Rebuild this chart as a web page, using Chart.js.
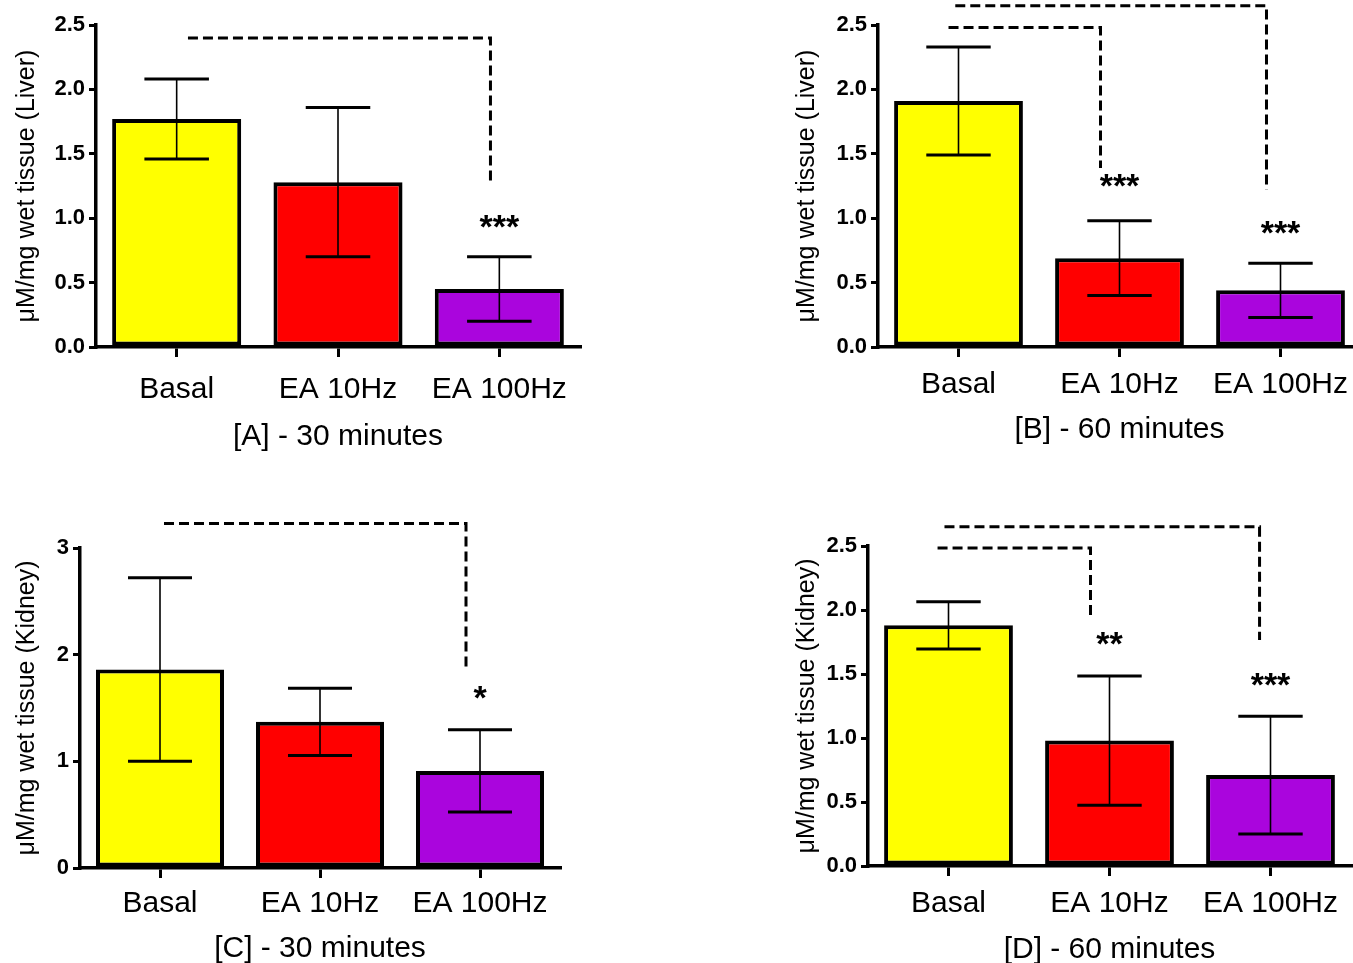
<!DOCTYPE html>
<html>
<head>
<meta charset="utf-8">
<script src="https://cdn.jsdelivr.net/npm/chart.js@4.4.0/dist/chart.umd.min.js"></script>
<style>
    html, body { margin: 0; padding: 0; background: #fff; overflow: hidden; width: 1353px; height: 963px; }
    .panel { position: absolute; }
</style>
</head>
<body>
<div class="panel" style="left:0;top:0"><canvas id="chartA" width="600" height="460"></canvas></div>
<div class="panel" style="left:780px;top:0"><canvas id="chartB" width="600" height="460"></canvas></div>
<div class="panel" style="left:0;top:480px"><canvas id="chartC" width="600" height="500"></canvas></div>
<div class="panel" style="left:780px;top:480px"><canvas id="chartD" width="600" height="500"></canvas></div>
<script>
const categories = ['Basal', 'EA 10Hz', 'EA 100Hz'];

// [A] liver, 30 minutes
const liver30Means = [1.77, 1.28, 0.45];
const liver30Errors = [0.31, 0.58, 0.25];
const liver30Stars = ['', '', '***'];
const liver30StarLevels = [null, null, 0.99];
// bracket: [from, to, fromShift, toShift, topLevel, endLevel]
const liver30Brackets = [[0, 2, 0.07, -0.055, 2.40, 1.26]];

// [B] liver, 60 minutes
const liver60Means = [1.91, 0.69, 0.44];
const liver60Errors = [0.42, 0.29, 0.21];
const liver60Stars = ['', '***', '***'];
const liver60StarLevels = [null, 1.31, 0.95];
const liver60Brackets = [[0, 1, -0.062, -0.118, 2.48, 1.39], [0, 2, -0.02, -0.087, 2.65, 1.22]];

// [C] kidney, 30 minutes
const kidney30Means = [1.86, 1.37, 0.91];
const kidney30Errors = [0.86, 0.315, 0.385];
const kidney30Stars = ['', '', '*'];
const kidney30StarLevels = [null, null, 1.67];
const kidney30Brackets = [[0, 2, 0.025, -0.0875, 3.23, 1.875]];

// [D] kidney, 60 minutes
const kidney60Means = [1.88, 0.98, 0.71];
const kidney60Errors = [0.185, 0.505, 0.46];
const kidney60Stars = ['', '**', '***'];
const kidney60StarLevels = [null, 1.80, 1.48];
const kidney60Brackets = [[0, 1, -0.068, -0.118, 2.484, 1.945], [0, 2, -0.025, -0.068, 2.65, 1.766]];

const halfTicks = [0, 0.5, 1, 1.5, 2, 2.5];
const unitTicks = [0, 1, 2, 3];

const barColors = ['#ffff00', '#ff0000', '#aa05dd'];
const family = '"Liberation Sans", Arial, sans-serif';

// error bars, significance brackets and stars
function makeMarks(means, errors, stars, starLevels, brackets) {
    return {
        id: 'marks',
        afterDatasetsDraw(chart) {
            const ctx = chart.ctx;
            const x = chart.scales.x;
            const y = chart.scales.y;
            const meta = chart.getDatasetMeta(0);
            ctx.save();
            ctx.strokeStyle = '#000';
            means.forEach((m, i) => {
                const bar = meta.data[i];
                const cx = bar.x;
                const half = bar.width * 0.25;
                const top = y.getPixelForValue(m + errors[i]);
                const bot = y.getPixelForValue(m - errors[i]);
                ctx.lineWidth = 1.6;
                ctx.beginPath();
                ctx.moveTo(cx, top);
                ctx.lineTo(cx, bot);
                ctx.stroke();
                ctx.lineWidth = 3;
                ctx.beginPath();
                ctx.moveTo(cx - half, top);
                ctx.lineTo(cx + half, top);
                ctx.moveTo(cx - half, bot);
                ctx.lineTo(cx + half, bot);
                ctx.stroke();
            });

            ctx.setLineDash([10, 5]);
            ctx.lineWidth = 3;
            brackets.forEach(b => {
                const x0 = x.getPixelForValue(b[0] + b[2]);
                const x1 = x.getPixelForValue(b[1] + b[3]);
                const yt = y.getPixelForValue(b[4]);
                const ye = y.getPixelForValue(b[5]);
                ctx.beginPath();
                ctx.moveTo(x0, yt);
                ctx.lineTo(x1, yt);
                ctx.lineTo(x1, ye);
                ctx.stroke();
            });
            ctx.setLineDash([]);

            ctx.font = 'bold 34px ' + family;
            ctx.textAlign = 'center';
            ctx.textBaseline = 'alphabetic';
            ctx.fillStyle = '#000';
            stars.forEach((s, i) => {
                if (!s) return;
                ctx.fillText(s, x.getPixelForValue(i), y.getPixelForValue(starLevels[i]) + 19);
            });
            ctx.restore();
        }
    };
}

function makePanel(id, p) {
    new Chart(document.getElementById(id), {
        type: 'bar',
        data: {
            labels: categories,
            datasets: [{
                data: p.means,
                backgroundColor: barColors,
                borderColor: '#000',
                borderWidth: 4,
                borderSkipped: false,
                barPercentage: 0.8,
                categoryPercentage: 1
            }]
        },
        options: {
            responsive: false,
            animation: false,
            layout: { padding: { top: p.top, right: p.right, left: 0, bottom: 0 } },
            plugins: { legend: { display: false }, tooltip: { enabled: false } },
            scales: {
                x: {
                    grid: { display: true, drawOnChartArea: false, offset: false, color: '#000', lineWidth: 3, tickLength: 10 },
                    border: { display: true, color: '#000', width: 3.5 },
                    ticks: { color: '#000', font: { size: 30, family: family }, padding: p.labelPad, maxRotation: 0, autoSkip: false },
                    title: { display: true, text: p.xTitle, color: '#000', font: { size: 30, family: family }, padding: { top: 0, bottom: p.titlePad } },
                    afterFit: s => { s.height = p.xHeight; }
                },
                y: {
                    min: 0,
                    max: p.ticks[p.ticks.length - 1],
                    afterBuildTicks: s => { s.ticks = p.ticks.map(v => ({ value: v })); },
                    ticks: { color: '#000', font: { size: 22, weight: 'bold', family: family }, padding: 4, callback: v => v.toFixed(p.decimals) },
                    grid: { display: true, drawOnChartArea: false, color: '#000', lineWidth: 3, tickLength: 7 },
                    border: { display: true, color: '#000', width: 3.5 },
                    title: { display: true, text: p.yTitle, color: '#000', font: { size: 25, family: family }, padding: { top: 12, bottom: 0 } },
                    afterFit: s => { s.width = p.left; }
                }
            }
        },
        plugins: [makeMarks(p.means, p.errors, p.stars, p.starLevels, p.brackets)]
    });
}

makePanel('chartA', {
    means: liver30Means, errors: liver30Errors, stars: liver30Stars, starLevels: liver30StarLevels, brackets: liver30Brackets,
    ticks: halfTicks, decimals: 1, yTitle: 'μM/mg wet tissue (Liver)', xTitle: '[A] - 30 minutes',
    left: 96, top: 25, right: 20, xHeight: 113, labelPad: 15, titlePad: 5
});
makePanel('chartB', {
    means: liver60Means, errors: liver60Errors, stars: liver60Stars, starLevels: liver60StarLevels, brackets: liver60Brackets,
    ticks: halfTicks, decimals: 1, yTitle: 'μM/mg wet tissue (Liver)', xTitle: '[B] - 60 minutes',
    left: 98, top: 25, right: 19, xHeight: 113, labelPad: 10, titlePad: 12
});
makePanel('chartC', {
    means: kidney30Means, errors: kidney30Errors, stars: kidney30Stars, starLevels: kidney30StarLevels, brackets: kidney30Brackets,
    ticks: unitTicks, decimals: 0, yTitle: 'μM/mg wet tissue (Kidney)', xTitle: '[C] - 30 minutes',
    left: 80, top: 68, right: 40, xHeight: 112, labelPad: 8, titlePad: 13
});
makePanel('chartD', {
    means: kidney60Means, errors: kidney60Errors, stars: kidney60Stars, starLevels: kidney60StarLevels, brackets: kidney60Brackets,
    ticks: halfTicks, decimals: 1, yTitle: 'μM/mg wet tissue (Kidney)', xTitle: '[D] - 60 minutes',
    left: 88, top: 66, right: 29, xHeight: 114, labelPad: 10, titlePad: 12
});
</script>
</body>
</html>
